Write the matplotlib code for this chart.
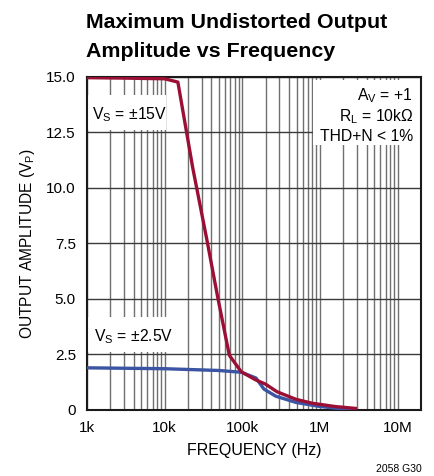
import matplotlib
matplotlib.use("Agg")
import matplotlib.pyplot as plt
from matplotlib.patches import Rectangle
from matplotlib.ticker import FixedLocator, NullFormatter

FONT = ["Liberation Sans Narrow", "Liberation Sans", "DejaVu Sans"]
plt.rcParams["font.family"] = FONT

# curve for Vs = +/-15V
red_freq = [1e3, 3e3, 1e4, 1.48e4, 2.3e4, 3.5e4, 4.8e4, 6.8e4, 9.7e4,
            1.5e5, 2.0e5, 2.8e5, 4.9e5, 8.0e5, 1.6e6, 2.85e6]
red_amp = [14.97, 14.95, 14.92, 14.77, 10.9, 7.65, 5.1, 2.45, 1.70,
           1.33, 1.14, 0.80, 0.46, 0.28, 0.13, 0.05]

# curve for Vs = +/-2.5V
blue_freq = [1e3, 1e4, 5e4, 9.7e4, 1.5e5, 1.9e5, 2.7e5, 4.9e5, 9.75e5, 1.9e6, 2.85e6]
blue_amp = [1.88, 1.84, 1.76, 1.68, 1.42, 0.92, 0.60, 0.32, 0.14, 0.03, 0.01]

x_ticks = [1e3, 1e4, 1e5, 1e6, 1e7]
x_labels = ["1k", "10k", "100k", "1M", "10M"]
y_ticks = [0, 2.5, 5.0, 7.5, 10.0, 12.5, 15.0]
y_labels = ["0", "2.5", "5.0", "7.5", "10.0", "12.5", "15.0"]

RED = "#9c0f35"
BLUE = "#3b54a3"

fig = plt.figure(figsize=(4.34, 4.76), dpi=100)
ax = fig.add_axes([87 / 434, 1 - 409.5 / 476, 334 / 434, 332.5 / 476])

ax.set_xscale("log")
ax.set_xlim(1e3, 2e7)
ax.set_ylim(0, 15)

ax.xaxis.set_major_locator(FixedLocator(x_ticks))
ax.set_xticklabels(x_labels)
minor = [m * 10 ** e for e in range(3, 7) for m in range(2, 10)]
ax.xaxis.set_minor_locator(FixedLocator(minor))
ax.xaxis.set_minor_formatter(NullFormatter())
ax.set_yticks(y_ticks)
ax.set_yticklabels(y_labels)

ax.tick_params(which="both", length=0, labelsize=11)
ax.tick_params(axis="x", pad=8)
ax.tick_params(axis="y", pad=8)

ax.set_axisbelow(True)
ax.grid(True, axis="x", which="both", color="#707070", linewidth=1.0)
ax.grid(True, axis="y", which="major", color="#3a3a3a", linewidth=1.0)

for s in ax.spines.values():
    s.set_linewidth(1.5)
    s.set_color("#1a1a1a")

# white label boxes hiding the grid
for (x0, y0, w, h) in [(0.0, 0.841, 0.237, 0.105),
                       (0.0, 0.173, 0.243, 0.105),
                       (0.677, 0.795, 0.323, 0.196)]:
    ax.add_patch(Rectangle((x0, y0), w, h, transform=ax.transAxes,
                           facecolor="white", edgecolor="none", zorder=1))

ax.plot(blue_freq, blue_amp, color=BLUE, linewidth=2.4, zorder=3,
        solid_joinstyle="round")
ax.plot(red_freq, red_amp, color=RED, linewidth=2.4, zorder=4,
        solid_joinstyle="round")

ax.text(0.016, 0.886, r"V$\mathregular{_S}$ = ±15V", transform=ax.transAxes,
        fontsize=11.3, ha="left", va="center", zorder=5)
ax.text(0.022, 0.218, r"V$\mathregular{_S}$ = ±2.5V", transform=ax.transAxes,
        fontsize=11.3, ha="left", va="center", zorder=5)
ax.text(0.976, 0.945, r"A$\mathregular{_V}$ = +1", transform=ax.transAxes,
        fontsize=11.3, ha="right", va="center", zorder=5)
ax.text(0.976, 0.882, r"R$\mathregular{_L}$ = 10kΩ", transform=ax.transAxes,
        fontsize=11.3, ha="right", va="center", zorder=5)
ax.text(0.976, 0.820, "THD+N < 1%", transform=ax.transAxes,
        fontsize=11.3, ha="right", va="center", zorder=5)

ax.set_xlabel("FREQUENCY (Hz)", fontsize=11.5, labelpad=6)
ax.set_ylabel(r"OUTPUT AMPLITUDE (V$\mathregular{_P}$)", fontsize=11.2, labelpad=7)

fig.text(86 / 434, 1 - 28 / 476, "Maximum Undistorted Output",
         fontsize=15.4, fontweight="bold", ha="left", va="baseline")
fig.text(86 / 434, 1 - 57 / 476, "Amplitude vs Frequency",
         fontsize=15.4, fontweight="bold", ha="left", va="baseline")
fig.text(422 / 434, 1 - 469 / 476, "2058 G30", fontsize=7.5, ha="right", va="center")

fig.savefig("out.png", dpi=100)
